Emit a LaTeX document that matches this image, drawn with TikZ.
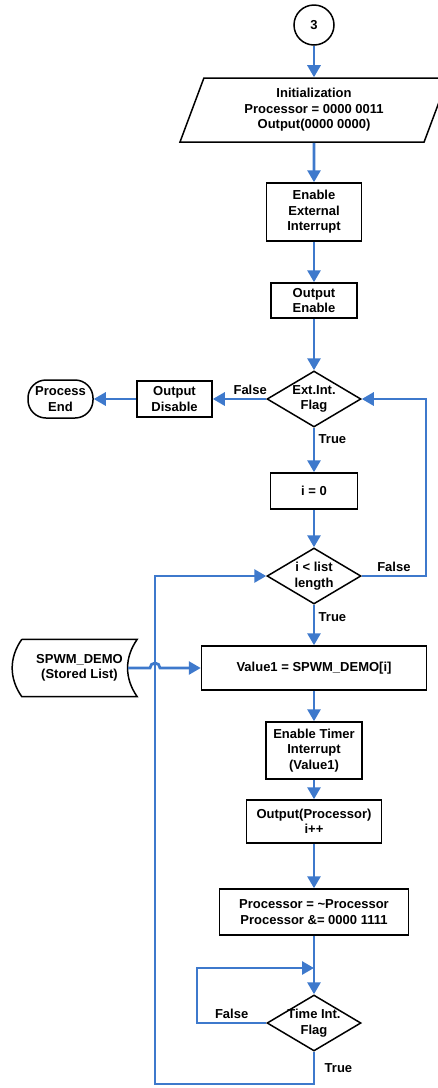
\documentclass[tikz,border=0pt]{standalone}
\usepackage{fontspec}
\setmainfont{Liberation Sans}
\usetikzlibrary{shapes.geometric,arrows.meta}
\definecolor{flowblue}{RGB}{62,121,204}

\begin{document}
\begin{tikzpicture}[x=1pt,y=-1pt,
		every node/.style={font=\fontsize{13}{15.5}\selectfont\bfseries, align=center},
		box/.style={draw, line width=1.5pt, inner sep=0pt},
		decision/.style={draw, diamond, line width=1.5pt, minimum width=94pt, minimum height=56pt, aspect=1.68, inner xsep=-4pt, inner ysep=-2pt},
		flow/.style={draw=flowblue, line width=2.8pt, -{Triangle[length=12pt,width=13pt]}}]
		\useasboundingbox (0,0) rectangle (438,1088);
		\node[draw, circle, line width=1.5pt, minimum size=40pt, inner sep=0pt] (c3) at (314,25) {3};
		\node[box, trapezium, trapezium left angle=61, trapezium right angle=119, trapezium stretches body, minimum width=268pt, minimum height=64pt] (init) at (314,110) {Initialization\\Processor = 0000 0011\\Output(0000 0000)};
		\node[box, minimum width=95pt, minimum height=58pt] (eei) at (314,212) {Enable\\External\\Interrupt};
		\node[box, minimum width=86pt, minimum height=35pt] (oen) at (314,300.5) {Output\\Enable};
		\node[decision] (ext) at (314,399) {Ext.Int.\\Flag};
		\node[box, minimum width=75pt, minimum height=36pt] (odis) at (174.5,399) {Output\\Disable};
		\node[box, rounded corners=18pt, minimum width=65pt, minimum height=38pt] (pend) at (60.5,399) {Process\\End};
		\node[box, minimum width=87pt, minimum height=36pt] (izero) at (314,491) {i = 0};
		\node[decision] (lst) at (314,576) {i < list\\length};
		\node[box, minimum width=225pt, minimum height=44pt] (val) at (314,668) {Value1 = SPWM\_DEMO[i]};
		\node[minimum width=115pt, minimum height=57pt, inner sep=0pt] (sd) at (79.5,668) {SPWM\_DEMO\\(Stored List)};
		\draw[line width=1.5pt] (sd.north west) -- (sd.north east) to[bend right=35] (sd.south east) -- (sd.south west) to[bend left=35] (sd.north west);
		\node[box, minimum width=96pt, minimum height=57pt] (eti) at (314,750.5) {Enable Timer\\Interrupt\\(Value1)};
		\node[box, minimum width=135pt, minimum height=43pt] (outp) at (314,821.5) {Output(Processor)\\i++};
		\node[box, minimum width=189pt, minimum height=46pt] (proc) at (314,912) {Processor = \textasciitilde Processor\\Processor \&= 0000 1111};
		\node[decision] (tif) at (314,1023) {Time Int.\\Flag};
		\coordinate (rx) at (426,488);
		\coordinate (lf) at (197,968);
		\coordinate (lb) at (155,1084);
		\coordinate (hop) at (150,668);
		\draw[flow] (c3) -- (init);
		\draw[flow] (init) -- (eei);
		\draw[flow] (eei) -- (oen);
		\draw[flow] (oen) -- (ext);
		\draw[flow] (ext) -- node[above, pos=0.3]{False} (odis);
		\draw[flow] (odis) -- (pend);
		\draw[flow] (ext) -- node[right, pos=0.25]{True} (izero);
		\draw[flow] (izero) -- (lst);
		\draw[flow] (lst.east) -| node[above, pos=0.25]{False} (rx) |- (ext.east);
		\draw[flow] (lst) -- node[right, pos=0.3]{True} (val);
		\draw[flow] ([xshift=-9pt]sd.east) -- (hop) arc[start angle=180, end angle=0, radius=5pt] -- (val.west);
		\draw[flow] (val) -- (eti);
		\draw[flow] (eti) -- (outp);
		\draw[flow] (outp) -- (proc);
		\draw[flow] (proc) -- (tif);
		\draw[flow] (tif.west) -| node[above, pos=0.25]{False} (lf) -- (lf -| tif.north);
		\draw[flow] (tif.south) |- node[right=6pt, pos=0.25]{True} (lb) |- (lst.west);
\end{tikzpicture}
\end{document}
